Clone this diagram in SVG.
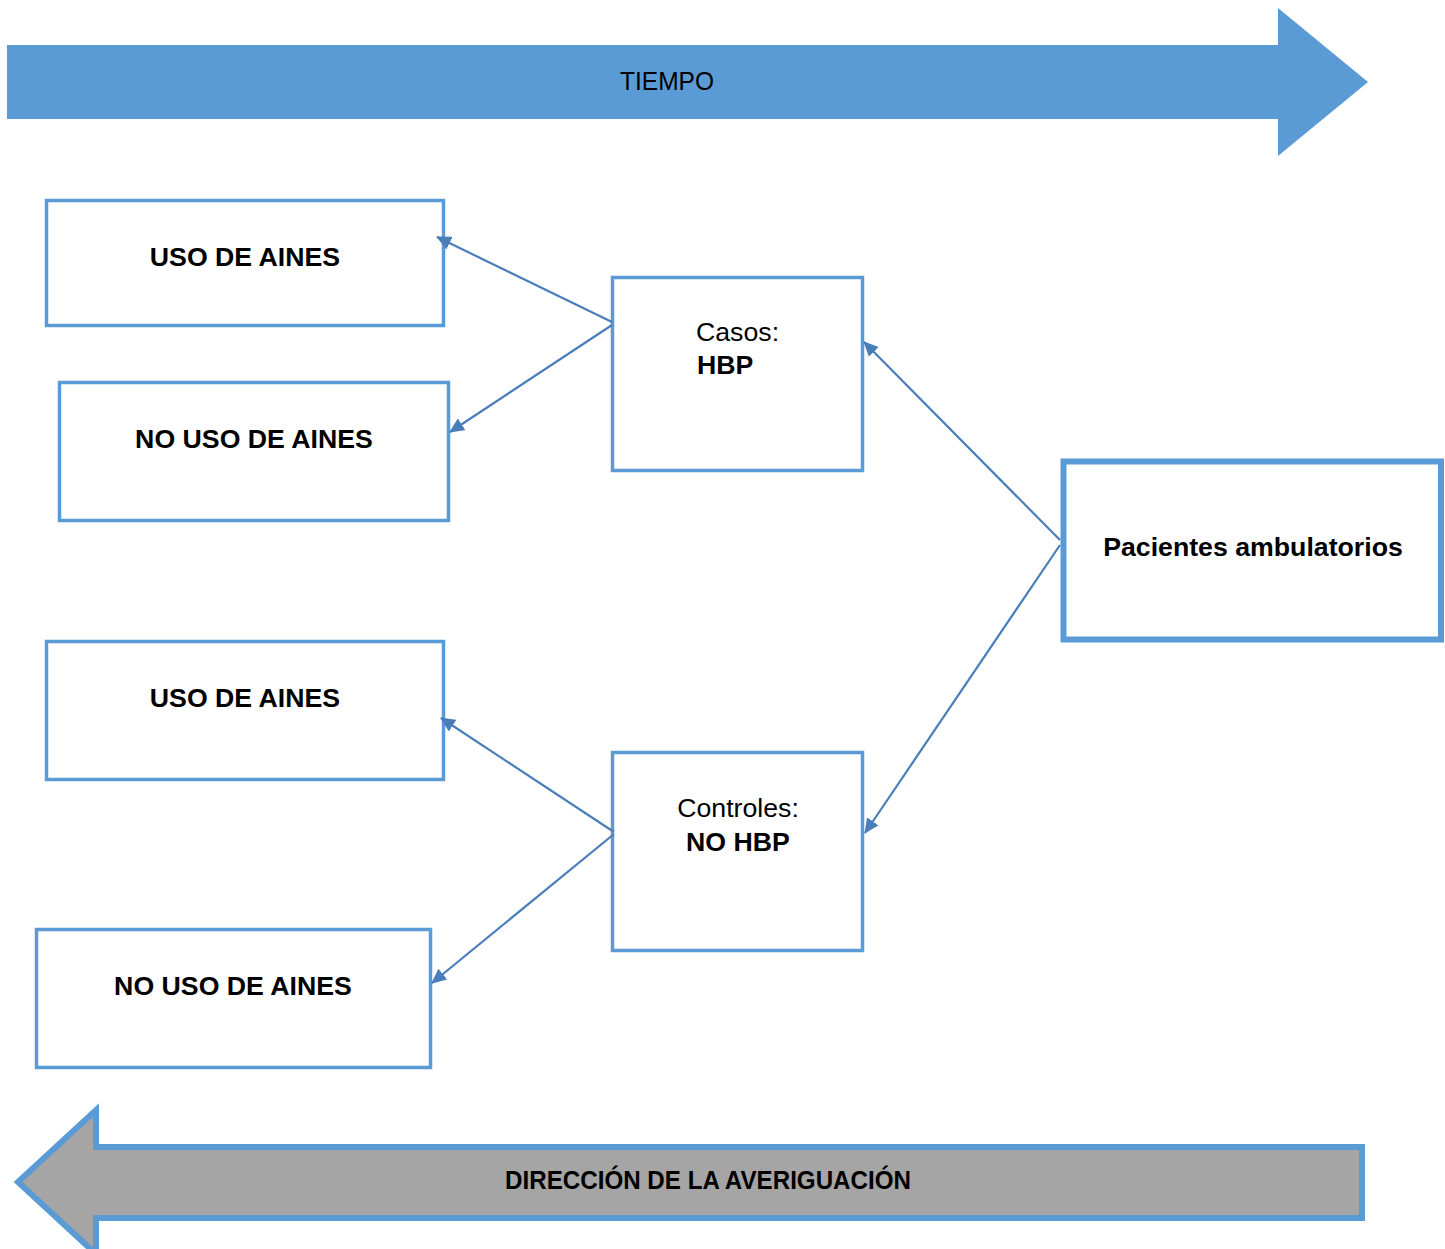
<svg xmlns="http://www.w3.org/2000/svg" width="1445" height="1249" viewBox="0 0 1445 1249">
<style>
.box{fill:#fff;stroke:#5B9BD5;stroke-width:3.5}
.t{font-family:"Liberation Sans",Arial,sans-serif;font-size:26.7px;fill:#000}
.b{font-weight:bold}
.c{text-anchor:middle}
.con{stroke:#4A7EBB;stroke-width:2.2;fill:none;marker-end:url(#ah)}
</style>
<defs>
<marker id="ah" markerUnits="userSpaceOnUse" markerWidth="16" markerHeight="14" refX="14" refY="7" orient="auto">
<path d="M0,0 L15,7 L0,14 Z" fill="#4A7EBB"/>
</marker>
</defs>
<g id="tiempo">
<path d="M7,45 H1278 V8 L1368,82 L1278,156 V119 H7 Z" fill="#5B9BD5"/>
<text class="t c" x="667" y="90" textLength="94" lengthAdjust="spacingAndGlyphs">TIEMPO</text>
</g>
<g id="uso1">
<rect class="box" x="46.5" y="200.5" width="397" height="125"/>
<text class="t b c" x="245" y="266">USO DE AINES</text>
</g>
<g id="nouso1">
<rect class="box" x="59.5" y="382.5" width="389" height="138"/>
<text class="t b c" x="254" y="448">NO USO DE AINES</text>
</g>
<g id="casos">
<rect class="box" x="612.5" y="277.5" width="250" height="193"/>
<text class="t" x="696" y="341">Casos:</text>
<text class="t b" x="697" y="374">HBP</text>
</g>
<g id="pacientes">
<rect x="1063.5" y="461.5" width="377.5" height="178" fill="#fff" stroke="#5B9BD5" stroke-width="6"/>
<text class="t b c" x="1253" y="556">Pacientes ambulatorios</text>
</g>
<g id="uso2">
<rect class="box" x="46.5" y="641.5" width="397" height="138"/>
<text class="t b c" x="245" y="707">USO DE AINES</text>
</g>
<g id="controles">
<rect class="box" x="612.5" y="752.5" width="250" height="198"/>
<text class="t c" x="738" y="817">Controles:</text>
<text class="t b c" x="738" y="851">NO HBP</text>
</g>
<g id="nouso2">
<rect class="box" x="36.5" y="929.5" width="394" height="138"/>
<text class="t b c" x="233" y="995">NO USO DE AINES</text>
</g>
<g id="direccion">
<path d="M1362,1147 H96 V1110 L18,1182 L96,1254 V1218 H1362 Z" fill="#A5A5A5" stroke="#5B9BD5" stroke-width="6"/>
<text class="t b c" x="708" y="1189" textLength="406" lengthAdjust="spacingAndGlyphs">DIRECCIÓN DE LA AVERIGUACIÓN</text>
</g>
<g id="connectors">
<line class="con" x1="612" y1="322" x2="437" y2="237"/>
<line class="con" x1="612" y1="325" x2="450" y2="432"/>
<line class="con" x1="1060" y1="540" x2="864" y2="342"/>
<line class="con" x1="1060" y1="545" x2="865" y2="833"/>
<line class="con" x1="614" y1="832" x2="441" y2="718"/>
<line class="con" x1="614" y1="834" x2="432" y2="983"/>
</g>
</svg>
